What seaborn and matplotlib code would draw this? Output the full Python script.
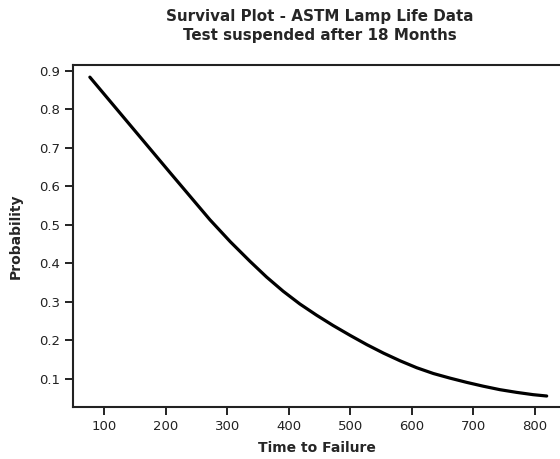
import matplotlib
matplotlib.use("Agg")
import matplotlib.pyplot as plt
import seaborn as sns
import pandas as pd

# Values
time_to_failure = [77, 142, 207, 272, 305, 337, 364, 391, 418, 445, 472, 500,
                   527, 554, 581, 608, 635, 662, 689, 716, 743, 770, 797, 819]
probability = [0.884, 0.760, 0.636, 0.513, 0.456, 0.405, 0.364, 0.327,
               0.294, 0.265, 0.238, 0.212, 0.188, 0.166, 0.146, 0.128,
               0.113, 0.101, 0.090, 0.080, 0.071, 0.064, 0.058, 0.0545]
x_ticks = [100, 200, 300, 400, 500, 600, 700, 800]
y_ticks = [0.1, 0.2, 0.3, 0.4, 0.5, 0.6, 0.7, 0.8, 0.9]

title_text = "Survival Plot - ASTM Lamp Life Data\nTest suspended after 18 Months"
x_label = "Time to Failure"
y_label = "Probability"

sns.set_style("ticks")
plt.rcParams["font.family"] = ["DejaVu Sans"]

df = pd.DataFrame({"t": time_to_failure, "p": probability})

fig = plt.figure(figsize=(5.6, 4.59), dpi=100)
ax = fig.add_axes([73.3 / 560, 1 - 406.7 / 459, 1 - 73.3 / 560, (406.7 - 65.3) / 459])

sns.lineplot(data=df, x="t", y="p", ax=ax, color="black", linewidth=2.3)

ax.set_xlim(50.1, 840.6)
ax.set_ylim(0.0267, 0.9148)
ax.set_xticks(x_ticks)
ax.set_yticks(y_ticks)
ax.set_xticklabels([str(v) for v in x_ticks], fontsize=9.5, color="#222222")
ax.set_yticklabels([f"{v:.1f}" for v in y_ticks], fontsize=9.5, color="#222222")

for side in ["left", "bottom", "top"]:
    ax.spines[side].set_visible(True)
    ax.spines[side].set_linewidth(1.5)
    ax.spines[side].set_color("#222222")
ax.spines["right"].set_visible(False)
ax.tick_params(axis="both", direction="out", length=5.5, width=1.4, color="#222222", pad=4)

ax.set_xlabel(x_label, fontsize=10, fontweight="bold", labelpad=6)
ax.set_ylabel(y_label, fontsize=10, fontweight="bold", labelpad=12)

fig.text(320 / 560, 1 - 9 / 459, title_text, ha="center", va="top",
         fontsize=10.9, fontweight="bold", linespacing=1.35)

fig.savefig("out.png", dpi=100)
